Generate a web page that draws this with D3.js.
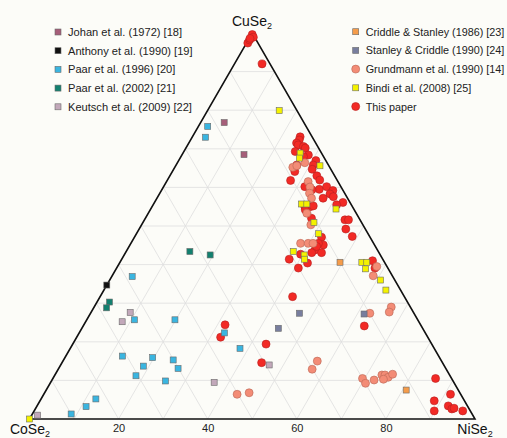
<!DOCTYPE html>
<html>
<head>
<meta charset="utf-8">
<script src="https://cdn.jsdelivr.net/npm/d3@7"></script>
<style>
  body { margin: 0; background: #fcfcf8; }
  svg { display: block; font-family: Arial, "Liberation Sans", sans-serif; }
</style>
</head>
<body>
<div id="chart"></div>
<script>
// Compositions as [CuSe2 %, NiSe2 %]; CoSe2 = 100 - Cu - Ni
const johan = [[76.8, 5.3], [68.5, 13.9]]
const anthony = [[34.7, 0]]
const paar1996 = [[75.8, 2.1], [73.0, 3.0], [36.9, 4.6], [25.7, 10.7], [25.7, 19.8], [22.3, 32.6],
  [18.3, 38.1], [16.3, 12.7], [13.7, 18.7], [15.9, 19.7], [15.3, 24.6], [13.1, 26.8], [11.2, 18.3],
  [9.85, 25.6], [5.2, 12.3], [3.2, 11.1], [1.3, 8.7]]
const paar2002 = [[43.4, 14.3], [42.5, 19.3], [30.3, 2.8], [28.8, 2.9]]
const keutsch = [[1.0, 1.3], [14.0, 46.8], [9.5, 36.7], [27.6, 8.8], [25.2, 8.2]]
const criddle1986 = [[40.6, 49.4], [7.5, 80.8]]
const stanley1990 = [[27.4, 46.9], [27.2, 61.5], [23.5, 44.1]]
const grundmann = [[65.2, 26.5], [65.6, 27.2], [66.4, 28.6], [61.5, 31.8], [60.1, 32.9], [58.5, 33.6],
  [57.2, 34.7], [53.3, 35.6], [50.3, 38.0], [45.5, 38.1], [45.5, 39.8], [45.5, 40.9], [39.5, 58.2],
  [37.1, 58.6], [29.0, 66.7], [27.7, 66.9], [27.4, 62.7], [15.0, 57.1], [12.9, 57.0], [6.4, 43.4],
  [6.8, 45.9], [10.5, 69.5], [9.25, 70.8], [10.1, 72.3], [11.4, 73.4], [11.4, 74.1], [10.8, 75.1],
  [11.6, 75.7], [10.3, 74.3]]
const bindi = [[79.9, 16.1], [68.9, 26.3], [67.6, 26.8], [65.6, 32.4], [55.7, 33.2], [55.7, 34.4],
  [54.4, 41.6], [50.9, 38.4], [48.0, 40.9], [43.4, 37.5], [42.5, 40.4], [41.4, 41.0], [40.6, 54.3],
  [40.6, 55.4], [38.9, 56.0], [36.0, 60.8], [33.4, 63.3], [0, 0]]
const thisPaper = [[97.4, 0.3], [98.2, 0.3], [99.6, 0.2], [98.9, 0.8], [98.6, 0.2], [92.0, 6.2],
  [73.1, 24.2], [72.3, 24.4], [71.5, 24.2], [71.0, 24.8], [70.6, 26.2], [69.3, 25.0], [70.2, 26.8],
  [68.4, 28.4], [68.0, 27.5], [66.95, 30.8], [65.8, 30.8], [64.7, 31.1], [65.8, 27.1], [64.1, 27.5],
  [61.8, 27.7], [63.0, 33.0], [61.9, 34.2], [59.5, 35.3], [60.2, 36.6], [59.2, 38.5], [58.3, 38.3],
  [57.6, 39.4], [57.2, 37.3], [56.1, 42.3], [60.2, 31.7], [59.4, 33.7], [55.0, 34.3], [55.0, 35.5],
  [55.2, 36.1], [55.5, 41.2], [54.2, 34.8], [52.0, 37.3], [51.6, 45.0], [51.6, 45.8], [49.2, 46.4],
  [47.3, 48.8], [47.1, 42.0], [45.1, 43.4], [45.5, 42.1], [43.8, 42.2], [43.1, 44.0], [43.1, 41.8],
  [44.7, 42.1], [42.7, 39.5], [41.4, 37.6], [39.1, 40.8], [40.4, 42.2], [41.0, 56.5], [39.1, 58.0],
  [31.7, 43.2], [24.1, 63.1], [24.4, 31.7], [21.2, 32.3], [19.4, 43.4], [14.6, 44.8], [10.5, 85.9],
  [6.4, 91.3], [4.7, 88.5], [3.4, 92.3], [2.6, 93.5], [2.8, 93.9], [2.1, 96.2], [2.1, 89.8]]

const gridSteps = d3.range(10, 100, 10)
const tickValues = [20, 40, 60, 80]

const series = [
  { name: 'This paper', data: thisPaper, shape: 'circle', fill: '#f22a25', stroke: '#b52020' },
  { name: 'Grundmann et al. (1990) [14]', data: grundmann, shape: 'circle', fill: '#f38c76', stroke: '#b86655' },
  { name: 'Johan et al. (1972) [18]', data: johan, shape: 'square', fill: '#a65e79' },
  { name: 'Anthony et al. (1990) [19]', data: anthony, shape: 'square', fill: '#111111' },
  { name: 'Paar et al. (1996) [20]', data: paar1996, shape: 'square', fill: '#3ab5e0' },
  { name: 'Paar et al. (2002) [21]', data: paar2002, shape: 'square', fill: '#12806f' },
  { name: 'Keutsch et al. (2009) [22]', data: keutsch, shape: 'square', fill: '#c2a8ba' },
  { name: 'Criddle & Stanley (1986) [23]', data: criddle1986, shape: 'square', fill: '#f59c4a' },
  { name: 'Stanley & Criddle (1990) [24]', data: stanley1990, shape: 'square', fill: '#787e9e' },
  { name: 'Bindi et al. (2008) [25]', data: bindi, shape: 'square', fill: '#f4f200' }
]

const leftLegend = ['Johan et al. (1972) [18]', 'Anthony et al. (1990) [19]', 'Paar et al. (1996) [20]',
  'Paar et al. (2002) [21]', 'Keutsch et al. (2009) [22]']
const rightLegend = ['Criddle & Stanley (1986) [23]', 'Stanley & Criddle (1990) [24]',
  'Grundmann et al. (1990) [14]', 'Bindi et al. (2008) [25]', 'This paper']

const width = 507,
  height = 438

let svg = d3.select('#chart')
  .append('svg')
  .attr('width', width)
  .attr('height', height)

// triangle geometry
const x = d3.scaleLinear().domain([0, 100]).range([29.5, 475])
const y = d3.scaleLinear().domain([0, 100]).range([419, 33])
const px = (cu, ni) => x(ni + cu / 2)
const py = (cu) => y(cu)

// grid
let grid = svg.append('g')
  .attr('stroke', '#dedede')
  .attr('stroke-width', 0.8)
gridSteps.forEach(k => {
  grid.append('line') // CuSe2 constant
    .attr('x1', px(k, 0)).attr('y1', py(k))
    .attr('x2', px(k, 100 - k)).attr('y2', py(k))
  grid.append('line') // NiSe2 constant
    .attr('x1', px(0, k)).attr('y1', py(0))
    .attr('x2', px(100 - k, k)).attr('y2', py(100 - k))
  grid.append('line') // CoSe2 constant
    .attr('x1', px(0, 100 - k)).attr('y1', py(0))
    .attr('x2', px(100 - k, 0)).attr('y2', py(100 - k))
})

// frame
svg.append('path')
  .attr('d', `M${px(0, 0)},${py(0)}L${px(100, 0)},${py(100)}L${px(0, 100)},${py(0)}Z`)
  .attr('fill', 'none')
  .attr('stroke', '#111')
  .attr('stroke-width', 1.6)

const xAxis = d3.axisBottom(x)
  .tickValues(tickValues)
  .tickSize(0)
  .tickPadding(5)

svg.append('g')
  .attr('transform', `translate(0, ${py(0)})`)
  .call(xAxis)
  .call(g => g.select('.domain').remove())
  .selectAll('text')
  .attr('font-size', 11)
  .attr('font-family', 'Arial, "Liberation Sans", sans-serif')
  .attr('fill', '#222')

// vertex labels
const vertex = (label, tx, ty, anchor) => {
  let t = svg.append('text')
    .attr('x', tx)
    .attr('y', ty)
    .attr('text-anchor', anchor)
    .attr('font-size', 14)
    .attr('fill', '#111')
  t.append('tspan').text(label)
  t.append('tspan').text('2').attr('font-size', 9).attr('dy', 3)
}
vertex('CuSe', 252, 26, 'middle')
vertex('CoSe', 30, 434, 'middle')
vertex('NiSe', 475, 434, 'middle')

// points
const drawMarks = (g, s, pts) => {
  if (s.shape === 'circle') {
    g.selectAll('circle')
      .data(pts)
      .enter()
      .append('circle')
      .attr('cx', d => d[0])
      .attr('cy', d => d[1])
      .attr('r', 4)
      .attr('fill', s.fill)
      .attr('stroke', s.stroke)
      .attr('stroke-width', 0.6)
  } else {
    g.selectAll('rect')
      .data(pts)
      .enter()
      .append('rect')
      .attr('x', d => d[0] - 3)
      .attr('y', d => d[1] - 3)
      .attr('width', 6)
      .attr('height', 6)
      .attr('fill', s.fill)
      .attr('stroke', '#6a6a6a')
      .attr('stroke-width', 0.6)
  }
}

series.forEach(s => {
  let g = svg.append('g')
  drawMarks(g, s, s.data.map(d => [px(d[0], d[1]), py(d[0])]))
})

// legends
const legend = (names, mx, top, fs) => {
  names.forEach((n, i) => {
    const s = series.find(e => e.name === n)
    const ly = top + i * 18.7
    let g = svg.append('g')
    drawMarks(g, s, [[mx, ly]])
    svg.append('text')
      .attr('x', mx + 10)
      .attr('y', ly + 4)
      .attr('font-size', fs)
      .attr('fill', '#222')
      .text(n)
  })
}
legend(leftLegend, 58, 32, 11.1)
legend(rightLegend, 355.7, 31.7, 10.8)
</script>
</body>
</html>
